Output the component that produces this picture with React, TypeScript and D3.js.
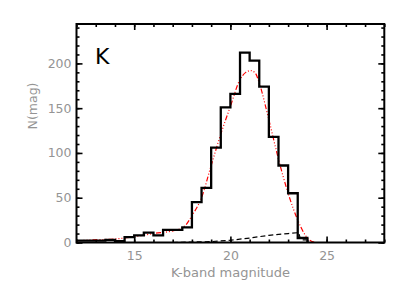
import { useEffect, useRef } from "react";
import * as d3 from "d3";

// histogram bins, 0.5 mag wide, left edges
const binStarts = [
  12.0, 12.5, 13.0, 13.5, 14.0, 14.5, 15.0, 15.5, 16.0, 16.5, 17.0, 17.5,
  18.0, 18.5, 19.0, 19.5, 20.0, 20.5, 21.0, 21.5, 22.0, 22.5, 23.0, 23.5,
];
const binCounts = [
  2, 2, 2, 3, 1.5, 6, 8, 11, 8, 14, 14, 17,
  45, 61, 106, 151, 166, 212, 203, 174, 118, 86, 55, 5,
];
const binWidth = 0.5;

// smooth model (red dash-dot-dot)
const modelMag = [
  12, 13, 14, 14.5, 15, 16, 17, 17.4, 17.7, 18, 18.5, 19, 19.5, 20, 20.5,
  20.8, 21.05, 21.3, 21.5, 22, 22.5, 23, 23.5, 23.9, 24.25, 24.5, 26.8,
];
const modelN = [
  2, 3, 4, 5, 6.5, 10, 13, 15.5, 20, 30, 50, 86, 121, 152, 182,
  190, 192, 189, 178, 137, 93, 55, 25, 8, 1, 0, 0,
];

// faint-end component (black dashed)
const faintMag = [17, 18, 19, 20, 21, 22, 23, 23.55, 23.65, 23.95];
const faintN = [0, 0.5, 1, 2.5, 5, 8, 10, 11, 3, 3];

const xMajor = [15, 20, 25];
const yMajor = [0, 50, 100, 150, 200];

export default function App() {
  const svgRef = useRef<SVGSVGElement>(null);

  useEffect(() => {
    const svg = d3.select(svgRef.current);
    svg.selectAll("*").remove();

    const width = 407;
    const height = 291;
    const left = 76.5;
    const right = 384.3;
    const top = 24;
    const bottom = 242.5;

    const x = d3.scaleLinear().domain([12, 28]).range([left, right]);
    const y = d3.scaleLinear().domain([0, 244]).range([bottom, top]);

    const grey = "#949494";
    const font = "'DejaVu Sans', sans-serif";

    svg.attr("width", width).attr("height", height);

    svg
      .append("rect")
      .attr("width", width)
      .attr("height", height)
      .attr("fill", "#fff");

    const addAxis = (
      axis: d3.Axis<d3.NumberValue>,
      tx: number,
      ty: number,
      labels: boolean
    ) => {
      const g = svg
        .append("g")
        .attr("transform", `translate(${tx},${ty})`)
        .call(axis as any);
      g.select(".domain").remove();
      g.selectAll("line").attr("stroke", "#000").attr("stroke-width", 1.6);
      if (labels) {
        g.selectAll("text")
          .attr("fill", grey)
          .attr("font-size", 12.5)
          .attr("font-family", font);
      } else {
        g.selectAll("text").remove();
      }
    };

    const xMinor = d3.range(12, 29, 1);
    const yMinor = d3.range(0, 245, 10);

    addAxis(d3.axisBottom(x).tickValues(xMinor).tickSize(-3), 0, bottom, false);
    addAxis(d3.axisTop(x).tickValues(xMinor).tickSize(-3), 0, top, false);
    addAxis(d3.axisBottom(x).tickValues(xMajor).tickSize(-6).tickPadding(9), 0, bottom, true);
    addAxis(d3.axisTop(x).tickValues(xMajor).tickSize(-6), 0, top, false);

    addAxis(d3.axisLeft(y).tickValues(yMinor).tickSize(-3), left, 0, false);
    addAxis(d3.axisRight(y).tickValues(yMinor).tickSize(-3), right, 0, false);
    addAxis(d3.axisLeft(y).tickValues(yMajor).tickSize(-6).tickPadding(5), left, 0, true);
    addAxis(d3.axisRight(y).tickValues(yMajor).tickSize(-6), right, 0, false);

    svg
      .append("clipPath")
      .attr("id", "plotClip")
      .append("rect")
      .attr("x", left)
      .attr("y", top)
      .attr("width", right - left)
      .attr("height", bottom - top);

    const plot = svg.append("g").attr("clip-path", "url(#plotClip)");

    // model curve
    const modelPts: [number, number][] = modelMag.map((m, i) => [m, modelN[i]]);
    plot
      .append("path")
      .attr(
        "d",
        d3
          .line<[number, number]>()
          .x((d) => x(d[0]))
          .y((d) => y(d[1]))
          .curve(d3.curveMonotoneX)(modelPts)
      )
      .attr("fill", "none")
      .attr("stroke", "#ff0000")
      .attr("stroke-width", 1.2)
      .attr("stroke-dasharray", "5,2,1,2,1,2,1,2");

    // faint component
    const faintPts: [number, number][] = faintMag.map((m, i) => [m, faintN[i]]);
    plot
      .append("path")
      .attr(
        "d",
        d3
          .line<[number, number]>()
          .x((d) => x(d[0]))
          .y((d) => y(d[1]))(faintPts)
      )
      .attr("fill", "none")
      .attr("stroke", "#000")
      .attr("stroke-width", 1.2)
      .attr("stroke-dasharray", "5,3");

    // histogram
    const histPts: [number, number][] = binStarts.map((b, i) => [b, binCounts[i]]);
    const lastEdge = binStarts[binStarts.length - 1] + binWidth;
    histPts.push([lastEdge, 0]);
    plot
      .append("path")
      .attr(
        "d",
        d3
          .line<[number, number]>()
          .x((d) => x(d[0]))
          .y((d) => y(d[1]))
          .curve(d3.curveStepAfter)(histPts)
      )
      .attr("fill", "none")
      .attr("stroke", "#000")
      .attr("stroke-width", 2.3);

    // frame
    svg
      .append("rect")
      .attr("x", left)
      .attr("y", top)
      .attr("width", right - left)
      .attr("height", bottom - top)
      .attr("fill", "none")
      .attr("stroke", "#000")
      .attr("stroke-width", 2);

    svg
      .append("text")
      .attr("x", 95)
      .attr("y", 64)
      .attr("font-family", font)
      .attr("font-size", 22)
      .attr("fill", "#000")
      .text("K");

    svg
      .append("text")
      .attr("x", (left + right) / 2)
      .attr("y", 277)
      .attr("text-anchor", "middle")
      .attr("font-family", font)
      .attr("font-size", 13)
      .attr("fill", grey)
      .text("K-band magnitude");

    svg
      .append("text")
      .attr("transform", "translate(37,106) rotate(-90)")
      .attr("text-anchor", "middle")
      .attr("font-family", font)
      .attr("font-size", 12.5)
      .attr("fill", grey)
      .text("N(mag)");
  }, []);

  return (
    <svg
      ref={svgRef}
      style={{ position: "absolute", left: 0, top: 0, display: "block" }}
    />
  );
}
